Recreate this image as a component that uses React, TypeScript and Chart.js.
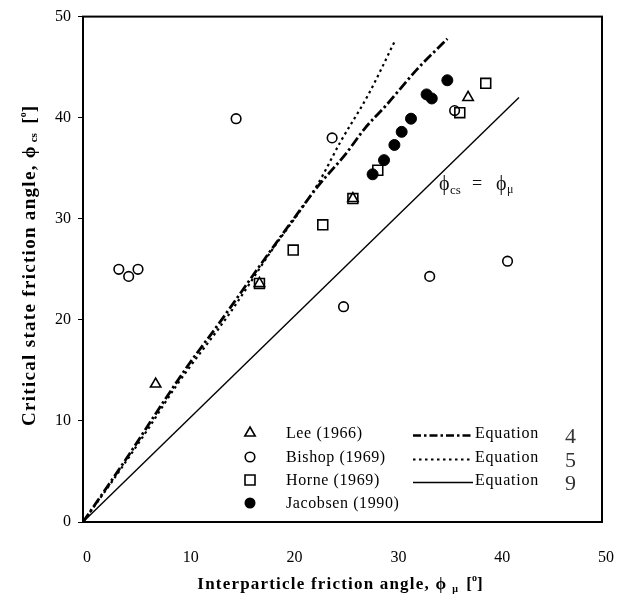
import React, { useEffect, useRef } from "react";
import { Chart, registerables } from "chart.js";
Chart.register(...registerables);

// ---- data ----
const leeX = [7.0, 17.0, 26.0, 37.1];
const leeY = [13.65, 23.6, 32.0, 42.0];
const bishopX = [3.45, 4.4, 5.3, 14.75, 24.0, 25.1, 33.4, 35.8, 40.9];
const bishopY = [25.0, 24.3, 25.0, 39.9, 38.0, 21.3, 24.3, 40.7, 25.8];
const horneX = [17.0, 20.25, 23.1, 26.0, 28.4, 36.3, 38.8];
const horneY = [23.6, 26.9, 29.4, 32.0, 34.8, 40.5, 43.4];
const jacobsenX = [27.9, 29.0, 30.0, 30.7, 31.6, 33.1, 33.6, 35.1];
const jacobsenY = [34.4, 35.8, 37.3, 38.6, 39.9, 42.3, 41.9, 43.7];
const eq4X = [0, 4.2, 7.7, 10.2, 13.0, 17.0, 20.3, 22.7, 25.3, 27.2, 29.1, 32.2, 35.1];
const eq4Y = [0, 6.3, 11.8, 15.6, 19.5, 25.3, 30.0, 33.3, 36.4, 39.0, 41.1, 44.8, 47.8];
const eq5X = [0, 3.0, 6.2, 9.0, 14.1, 18.0, 22.6, 24.8, 27.5, 30.1];
const eq5Y = [0, 4.3, 9.1, 13.5, 20.6, 26.6, 33.4, 37.6, 42.3, 47.7];
const eq9X = [0, 42];
const eq9Y = [0, 42];
const xTicks = [0, 10, 20, 30, 40, 50];
const yTicks = [0, 10, 20, 30, 40, 50];
const seriesLabels = ["Lee (1966)", "Bishop (1969)", "Horne (1969)", "Jacobsen (1990)"];
const equationLabel = "Equation";
const equationNumbers = ["4", "5", "9"];
const xTitle = "Interparticle friction angle, ϕ";
const yTitle = "Critical state friction angle, ϕ";

const SERIF = "'Liberation Serif', 'Times New Roman', 'DejaVu Serif', serif";

const pts = (xs: number[], ys: number[]) => xs.map((x, i) => ({ x, y: ys[i] }));

type Seg = { t: string; font: string; dy: number; ls?: string };
function drawSegs(ctx: CanvasRenderingContext2D, segs: Seg[], cx: number, baseY: number) {
  const widths = segs.map((s) => {
    ctx.font = s.font;
    (ctx as any).letterSpacing = s.ls || "0px";
    return ctx.measureText(s.t).width;
  });
  const total = widths.reduce((a, b) => a + b, 0);
  let x = cx - total / 2;
  segs.forEach((s, i) => {
    ctx.font = s.font;
    (ctx as any).letterSpacing = s.ls || "0px";
    ctx.fillText(s.t, x, baseY + s.dy);
    x += widths[i];
  });
  (ctx as any).letterSpacing = "0px";
}

function marker(ctx: CanvasRenderingContext2D, kind: string, x: number, y: number) {
  ctx.save();
  ctx.strokeStyle = "#000";
  ctx.fillStyle = "#000";
  ctx.lineWidth = 1.6;
  ctx.beginPath();
  if (kind === "triangle") {
    const r = 6;
    ctx.moveTo(x, y - r);
    ctx.lineTo(x + r * 0.866, y + r * 0.5);
    ctx.lineTo(x - r * 0.866, y + r * 0.5);
    ctx.closePath();
    ctx.stroke();
  } else if (kind === "circle") {
    ctx.arc(x, y, 4.8, 0, Math.PI * 2);
    ctx.stroke();
  } else if (kind === "rect") {
    ctx.rect(x - 5, y - 5, 10, 10);
    ctx.stroke();
  } else {
    ctx.arc(x, y, 5.5, 0, Math.PI * 2);
    ctx.fill();
  }
  ctx.restore();
}

const decorPlugin = {
  id: "decor",
  afterDraw(chart: any) {
    const ctx: CanvasRenderingContext2D = chart.ctx;
    const a = chart.chartArea;
    ctx.save();
    // frame
    ctx.strokeStyle = "#000";
    ctx.lineWidth = 2;
    ctx.strokeRect(a.left, a.top, a.right - a.left, a.bottom - a.top);

    // legend
    const rows = [433, 457, 480, 503];
    const kinds = ["triangle", "circle", "rect", "filled"];
    ctx.textBaseline = "middle";
    ctx.textAlign = "left";
    ctx.fillStyle = "#000";
    seriesLabels.forEach((lab, i) => {
      marker(ctx, kinds[i], 250, rows[i]);
      ctx.font = `16px ${SERIF}`;
      (ctx as any).letterSpacing = "0.6px";
      ctx.fillText(lab, 286, rows[i] + 1);
    });
    const dashes = [[8, 3, 2.5, 3], [2.5, 3.5], []];
    const widths = [2.6, 2, 1.5];
    equationNumbers.forEach((num, i) => {
      const y = Math.round(rows[i] + 2) + 0.5;
      ctx.save();
      ctx.strokeStyle = "#000";
      ctx.lineWidth = widths[i];
      ctx.setLineDash(dashes[i]);
      ctx.beginPath();
      ctx.moveTo(413, y);
      ctx.lineTo(473, y);
      ctx.stroke();
      ctx.restore();
      ctx.fillStyle = "#000";
      ctx.font = `16px ${SERIF}`;
      (ctx as any).letterSpacing = "0.8px";
      ctx.fillText(equationLabel, 475, rows[i] + 1);
      (ctx as any).letterSpacing = "0px";
      ctx.fillStyle = "#333";
      ctx.font = `22px ${SERIF}`;
      ctx.textBaseline = "alphabetic";
      ctx.fillText(num, 565, rows[i] + 10);
      ctx.textBaseline = "middle";
    });
    (ctx as any).letterSpacing = "0px";

    // annotation phi_cs = phi_mu
    ctx.textBaseline = "alphabetic";
    ctx.fillStyle = "#111";
    ctx.font = `20px ${SERIF}`;
    ctx.fillText("ϕ", 439, 190);
    ctx.font = `13px ${SERIF}`;
    ctx.fillText("cs", 450, 194);
    ctx.font = `18px ${SERIF}`;
    ctx.fillText("=", 472, 189);
    ctx.font = `20px ${SERIF}`;
    ctx.fillText("ϕ", 496, 190);
    ctx.font = `12px ${SERIF}`;
    ctx.fillText("μ", 507, 193);

    // axis titles
    ctx.fillStyle = "#000";
    const boldX = `bold 17px ${SERIF}`;
    const boldY = `bold 19px ${SERIF}`;
    const boldSmall = `bold 10px ${SERIF}`;
    drawSegs(
      ctx,
      [
        { t: xTitle, font: boldX, dy: 0, ls: "1.2px" },
        { t: "  μ", font: boldSmall, dy: 3 },
        { t: "  [", font: boldX, dy: 0 },
        { t: "o", font: boldSmall, dy: -8 },
        { t: "]", font: boldX, dy: 0 },
      ],
      340,
      589
    );
    ctx.save();
    ctx.translate(35, 266);
    ctx.rotate(-Math.PI / 2);
    drawSegs(
      ctx,
      [
        { t: yTitle, font: boldY, dy: 0, ls: "1.3px" },
        { t: " cs", font: `bold 11px ${SERIF}`, dy: 2 },
        { t: "  [", font: boldY, dy: 0 },
        { t: "o", font: boldSmall, dy: -9 },
        { t: "]", font: boldY, dy: 0 },
      ],
      0,
      0
    );
    ctx.restore();
    ctx.restore();
  },
};

export default function App() {
  const ref = useRef<HTMLCanvasElement>(null);
  useEffect(() => {
    if (!ref.current) return;
    const tickFont = { family: SERIF, size: 16 };
    const chart = new Chart(ref.current, {
      type: "scatter",
      data: {
        datasets: [
          {
            label: seriesLabels[3],
            data: pts(jacobsenX, jacobsenY),
            pointStyle: "circle",
            pointRadius: 5.5,
            backgroundColor: "#000",
            borderColor: "#000",
            borderWidth: 1,
            order: 1,
          },
          {
            label: seriesLabels[2],
            data: pts(horneX, horneY),
            pointStyle: "rect",
            pointRadius: 7,
            backgroundColor: "rgba(0,0,0,0)",
            borderColor: "#000",
            borderWidth: 1.6,
            order: 2,
          },
          {
            label: seriesLabels[0],
            data: pts(leeX, leeY),
            pointStyle: "triangle",
            pointRadius: 6,
            backgroundColor: "rgba(0,0,0,0)",
            borderColor: "#000",
            borderWidth: 1.6,
            order: 3,
          },
          {
            label: seriesLabels[1],
            data: pts(bishopX, bishopY),
            pointStyle: "circle",
            pointRadius: 4.8,
            backgroundColor: "rgba(0,0,0,0)",
            borderColor: "#000",
            borderWidth: 1.6,
            order: 4,
          },
          {
            label: "Equation 4",
            data: pts(eq4X, eq4Y),
            showLine: true,
            pointRadius: 0,
            borderColor: "#000",
            borderWidth: 2.8,
            borderDash: [10, 3, 2.5, 3],
            cubicInterpolationMode: "monotone",
            order: 5,
          } as any,
          {
            label: "Equation 5",
            data: pts(eq5X, eq5Y),
            showLine: true,
            pointRadius: 0,
            borderColor: "#000",
            borderWidth: 2.2,
            borderDash: [2.5, 3.5],
            cubicInterpolationMode: "monotone",
            order: 6,
          } as any,
          {
            label: "Equation 9",
            data: pts(eq9X, eq9Y),
            showLine: true,
            pointRadius: 0,
            borderColor: "#000",
            borderWidth: 1.4,
            order: 7,
          },
        ],
      },
      options: {
        animation: false,
        responsive: false,
        devicePixelRatio: 1,
        layout: { padding: { top: 8, right: 24, left: 0, bottom: 0 } },
        plugins: { legend: { display: false }, tooltip: { enabled: false } },
        scales: {
          x: {
            type: "linear",
            min: 0,
            max: 50,
            afterBuildTicks: (s: any) => {
              s.ticks = xTicks.map((v) => ({ value: v }));
            },
            afterFit: (s: any) => {
              s.height = 87;
            },
            grid: { display: false },
            border: { display: true, color: "#000", width: 2 },
            ticks: { font: tickFont, color: "#000", padding: 18, labelOffset: 4, maxRotation: 0 },
          },
          y: {
            type: "linear",
            min: 0,
            max: 50,
            afterBuildTicks: (s: any) => {
              s.ticks = yTicks.map((v) => ({ value: v }));
            },
            afterFit: (s: any) => {
              s.width = 83;
            },
            grid: { display: true, drawOnChartArea: false, drawTicks: true, tickLength: 5, color: "#000", lineWidth: 1 },
            border: { display: true, color: "#000", width: 2 },
            ticks: { font: tickFont, color: "#000", padding: 7 },
          },
        },
      } as any,
      plugins: [decorPlugin],
    });
    return () => chart.destroy();
  }, []);
  return (
    <div style={{ position: "fixed", left: 0, top: 0, width: 628, height: 609, background: "#fff" }}>
      <canvas ref={ref} width={628} height={609} style={{ display: "block", width: 628, height: 609 }} />
    </div>
  );
}
